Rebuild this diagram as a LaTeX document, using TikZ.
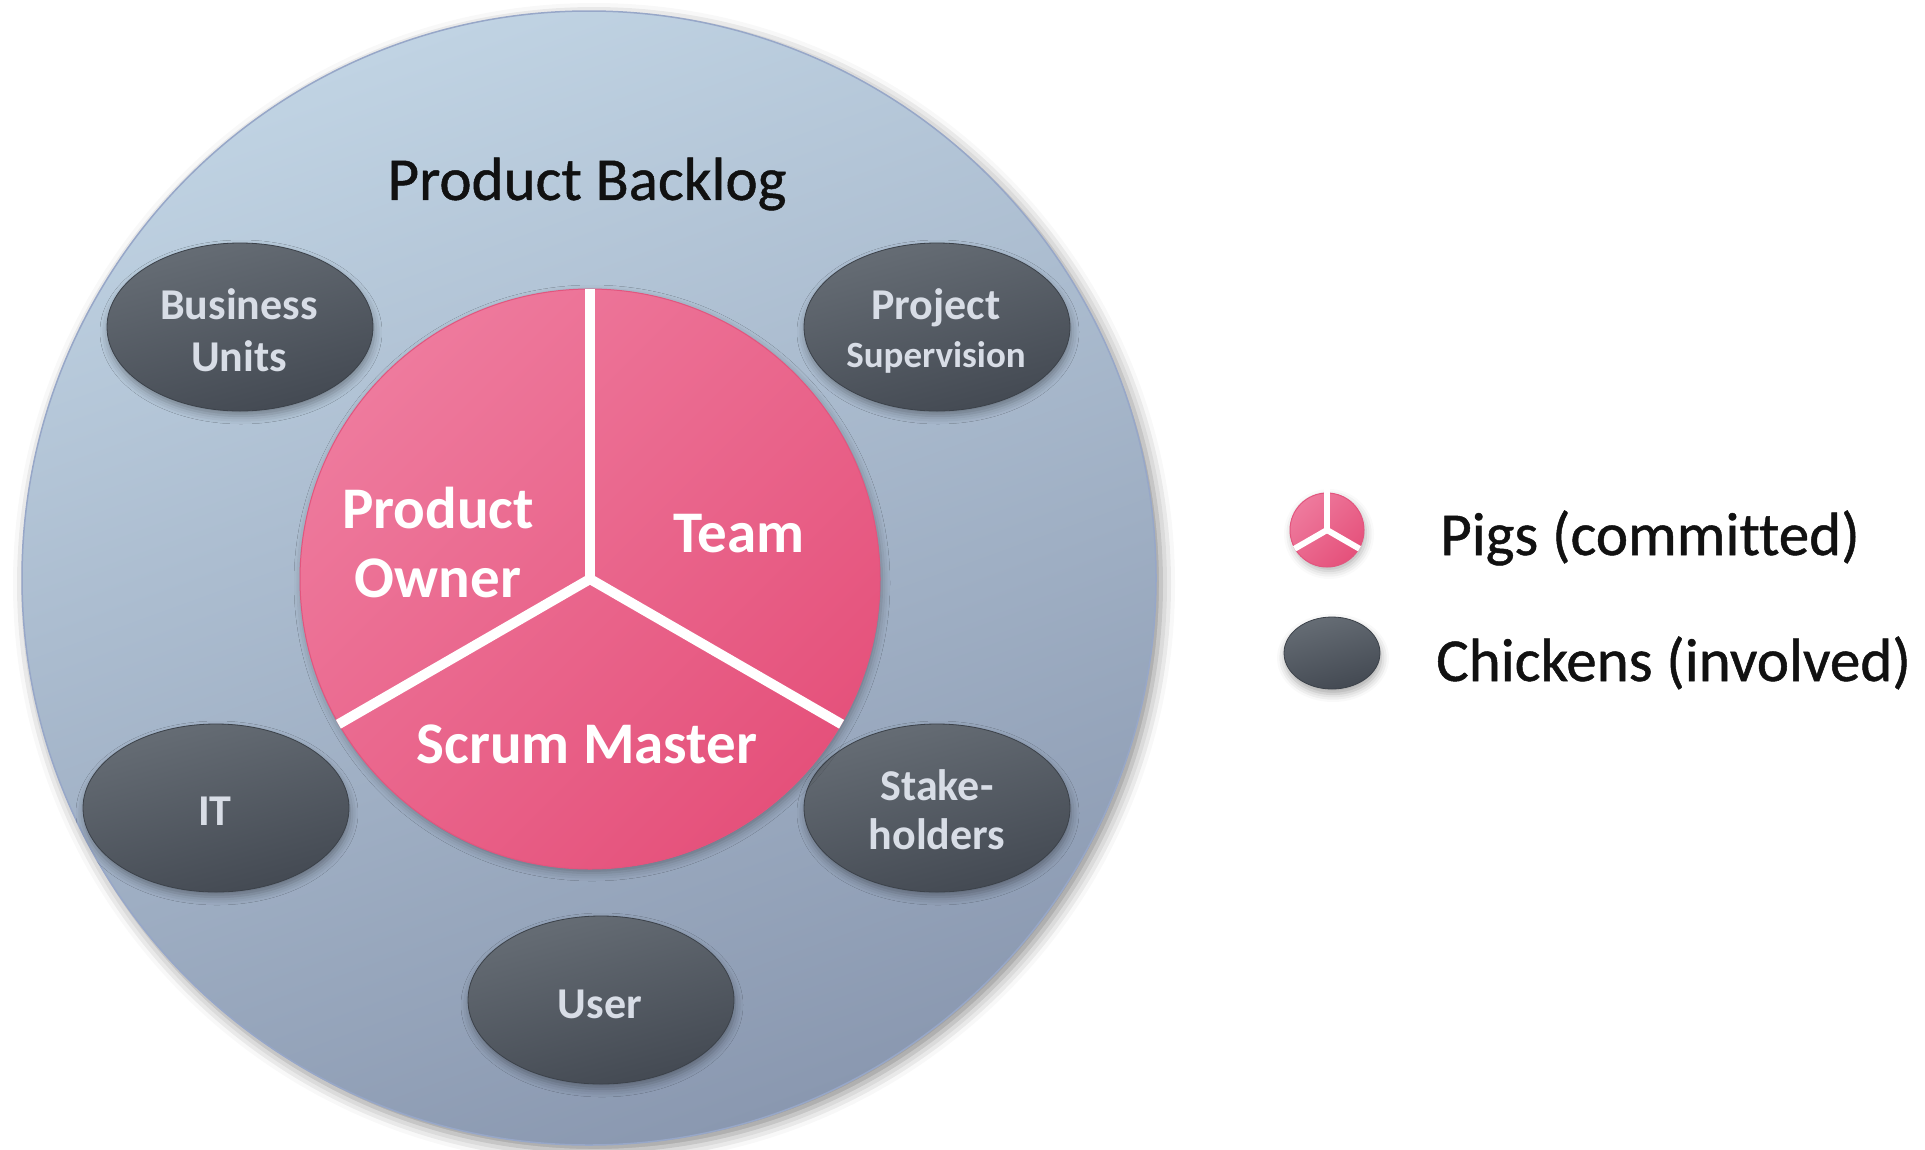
\documentclass[tikz,border=0pt]{standalone}
\usepackage{fontspec}
\setmainfont{Carlito}[Ligatures=NoCommon]
\newfontfamily\legfont{Carlito}[Ligatures=NoCommon,FakeBold=0.8]
\usetikzlibrary{shapes.geometric,shadows.blur}
\definecolor{bgtop}{HTML}{C0D3E3}
\definecolor{bgbot}{HTML}{8A98B0}
\definecolor{bgedge}{HTML}{97A7C8}
\definecolor{pinktop}{HTML}{EE7A9D}
\definecolor{pinkbot}{HTML}{E5517B}
\definecolor{pinkedge}{HTML}{E2557E}
\definecolor{chtop}{HTML}{666D75}
\definecolor{chbot}{HTML}{434952}
\definecolor{chtext}{HTML}{D8DDE6}
\definecolor{legtext}{HTML}{111111}
\begin{document}
\begin{tikzpicture}[x=1pt,y=-1pt,
  backlog/.style={circle,inner sep=0pt,minimum size=1134pt,draw=bgedge,line width=1.5pt,
    top color=bgtop,bottom color=bgbot,shading angle=20,
    blur shadow={shadow xshift=5pt,shadow yshift=-6pt,shadow blur radius=14pt,shadow opacity=45}},
  pigdisc/.style={circle,inner sep=0pt,draw=pinkedge,line width=1pt,
    top color=pinktop,bottom color=pinkbot,shading angle=45,
    blur shadow={shadow xshift=2pt,shadow yshift=-4pt,shadow blur radius=8pt,shadow opacity=30}},
  chicken/.style={ellipse,inner sep=0pt,draw=chbot!90!black,line width=0.8pt,
    top color=chtop,bottom color=chbot,shading angle=15,
    blur shadow={shadow xshift=1pt,shadow yshift=-5pt,shadow blur radius=8pt,shadow opacity=35}},
  chickenbig/.style={chicken,minimum width=266pt,minimum height=168pt},
  chtxt/.style={text=chtext,align=center,inner sep=0pt,font=\fontsize{44}{52}\selectfont\bfseries},
  pigtxt/.style={text=white,align=center,inner sep=0pt,font=\fontsize{59}{69}\selectfont\bfseries},
  divider/.style={draw=white,line width=#1,line cap=butt},
  legtxt/.style={text=legtext,inner sep=0pt,font=\fontsize{61}{70}\selectfont\legfont}
]
\useasboundingbox (0,0) rectangle (1925,1149);

% outer circle
\node[backlog] (bl) at (589,578) {};
\node[legtxt] (pbtitle) at (587,184) {Product Backlog};

% chickens
\node[chickenbig] (bu) at (240,327) {};
\node[chickenbig] (ps) at (937,327) {};
\node[chickenbig] (it) at (216,808) {};
\node[chickenbig] (sh) at (937,808) {};
\node[chickenbig] (us) at (601,1000) {};
\node[chtxt] (butxt) at (239,330) {Business\\Units};
\node[chtxt,font=\fontsize{44}{48}\selectfont\bfseries] (pstxt) at (936,331) {Project\\{\fontsize{37}{48}\selectfont Supervision}};
\node[chtxt] (ittxt) at (215,811) {IT};
\node[chtxt,font=\fontsize{44}{49}\selectfont\bfseries] (shtxt) at (937,810) {Stake-\\holders};
\node[chtxt] (ustxt) at (600,1004) {User};

% pigs
\node[pigdisc,minimum size=580pt] (pig) at (590,579) {};
\draw[divider=10pt] (pig.center) -- (pig.90);
\draw[divider=10pt] (pig.center) -- (pig.210);
\draw[divider=10pt] (pig.center) -- (pig.330);
\node[pigtxt] (po) at (438,543) {Product\\Owner};
\node[pigtxt] (team) at (739,534) {Team};
\node[pigtxt] (sm) at (587,744) {Scrum Master};

% legend
\node[pigdisc,minimum size=74pt] (lpig) at (1327,530) {};
\draw[divider=6pt] (lpig.center) -- ([yshift=4pt]lpig.90);
\draw[divider=6pt] (lpig.center) -- (lpig.210);
\draw[divider=6pt] (lpig.center) -- (lpig.330);
\node[chicken,minimum width=96pt,minimum height=72pt] (lch) at (1332,653) {};
\node[legtxt,anchor=base west] (lpigtxt) at (1440,555) {Pigs (committed)};
\node[legtxt,anchor=base west] (lchtxt) at (1436,681) {Chickens (involved)};
\end{tikzpicture}
\end{document}
